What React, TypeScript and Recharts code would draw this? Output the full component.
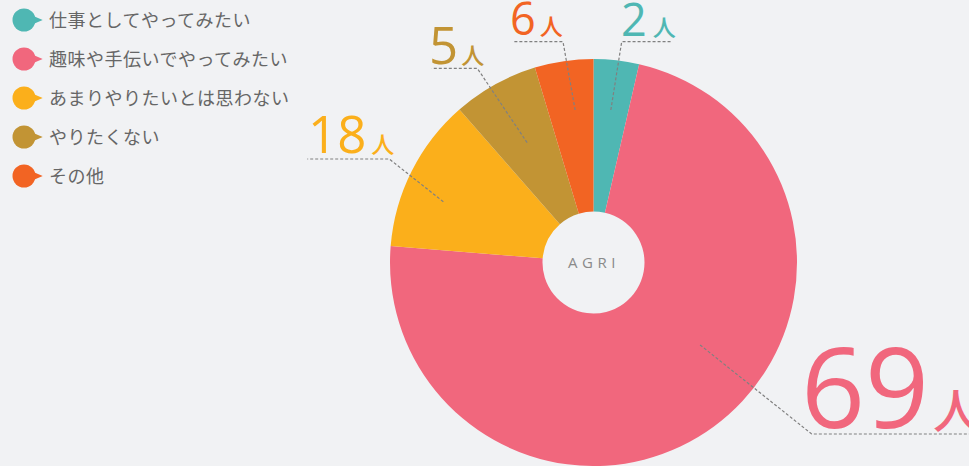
import React from "react";
import { PieChart, Pie, Cell, Legend } from "recharts";

const categories = [
  "仕事としてやってみたい",
  "趣味や手伝いでやってみたい",
  "あまりやりたいとは思わない",
  "やりたくない",
  "その他",
];
// head counts shown in the labels
const counts = [2, 69, 18, 5, 6];
// slice sizes as drawn in the picture (%)
const shares = [3.6, 72.7, 12.25, 6.8, 4.65];
const colors = ["#4fb7b3", "#f1677d", "#fbaf1b", "#c29434", "#f26423"];

const data = categories.map((name, i) => ({
  name,
  share: shares[i],
  count: counts[i],
}));

const BG = "#f1f2f4";
const NUM_FONT = "'Open Sans', sans-serif";
const JP_FONT = "'Noto Sans CJK JP', sans-serif";

// leader line / label placement per slice
const labelLayout = [
  { r: 153.5, shift: 0, elbow: [621.7, 41.7], end: 671.7, tx: 621, ty: 36, big: 45, small: 23, gap: 6 },
  { r: 134.7, shift: 16.1, elbow: [811.7, 434], end: 969, tx: 801, ty: 428, big: 112, small: 47, gap: 4 },
  { r: 162, shift: 4.7, elbow: [389.3, 159], end: 307.3, tx: 308, ty: 153, big: 51, small: 23, gap: 5 },
  { r: 137, shift: 0, elbow: [477.3, 68.3], end: 431.7, tx: 429, ty: 64, big: 51, small: 23, gap: 3 },
  { r: 153.6, shift: -1.5, elbow: [563, 41.7], end: 514, tx: 510, ty: 35, big: 45, small: 23, gap: 4 },
];

const RAD = Math.PI / 180;

const renderLabel = (props: any) => {
  const { cx, cy, midAngle, index } = props;
  const l = labelLayout[index];
  const a = (midAngle + l.shift) * RAD;
  const x0 = cx + l.r * Math.cos(a);
  const y0 = cy - l.r * Math.sin(a);
  const [ex, ey] = l.elbow;
  return (
    <g key={`lbl-${index}`}>
      <polyline
        points={`${x0},${y0} ${ex},${ey} ${l.end},${ey}`}
        fill="none"
        stroke="#808080"
        strokeWidth={1.2}
        strokeDasharray="3 2"
      />
      <text x={l.tx} y={l.ty} fill={colors[index]} textAnchor="start">
        <tspan fontFamily={NUM_FONT} fontSize={l.big} fontWeight={500}>
          {counts[index]}
        </tspan>
        <tspan fontFamily={JP_FONT} fontSize={l.small} fontWeight={500} dx={l.gap}>
          人
        </tspan>
      </text>
    </g>
  );
};

const LegendContent = () => (
  <svg width={320} height={200}>
    {categories.map((name, i) => {
      const y = 20 + i * 39;
      return (
        <g key={name}>
          <circle cx={24} cy={y} r={11.5} fill={colors[i]} />
          <polygon points={`${31},${y - 5} ${42.7},${y} ${31},${y + 5}`} fill={colors[i]} />
          <text
            x={49}
            y={y + 6.5}
            fontFamily={JP_FONT}
            fontSize={18}
            letterSpacing={0.5}
            fill="#666666"
          >
            {name}
          </text>
        </g>
      );
    })}
  </svg>
);

export default function App() {
  return (
    <div
      style={{
        position: "absolute",
        left: 0,
        top: 0,
        width: 969,
        height: 466,
        background: BG,
        overflow: "hidden",
      }}
    >
      <PieChart width={969} height={466} margin={{ top: 0, right: 0, bottom: 0, left: 0 }}>
        <Legend
          content={<LegendContent />}
          wrapperStyle={{ position: "absolute", left: 0, top: 0, width: 320, height: 200 }}
        />
        <Pie
          data={data}
          dataKey="share"
          nameKey="name"
          cx={593.5}
          cy={262.5}
          innerRadius={51}
          outerRadius={203.5}
          startAngle={90}
          endAngle={-270}
          stroke="none"
          label={renderLabel}
          labelLine={false}
          isAnimationActive={false}
        >
          {data.map((d, i) => (
            <Cell key={d.name} fill={colors[i]} />
          ))}
        </Pie>
        <text
          x={594}
          y={268}
          textAnchor="middle"
          fontFamily={NUM_FONT}
          fontSize={15}
          letterSpacing={4.5}
          fill="#8a8a8a"
        >
          AGRI
        </text>
      </PieChart>
    </div>
  );
}
